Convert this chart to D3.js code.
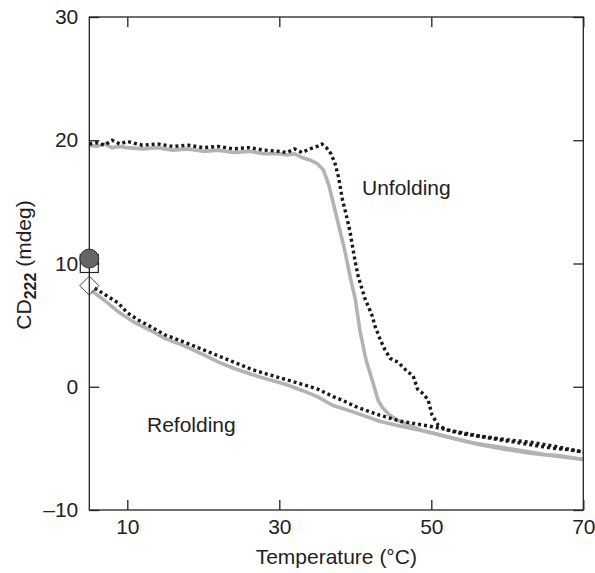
<!DOCTYPE html>
<html>
<head>
<meta charset="utf-8">
<script src="https://cdn.jsdelivr.net/npm/d3@7"></script>
<style>
  body { margin: 0; background: #fff; }
  svg text { font-family: "Liberation Sans", Arial, sans-serif; fill: #222; }
</style>
</head>
<body>
<svg class="cd" width="595" height="573"></svg>
<script>
// unfolding run, black dotted trace
var unfoldBlackT = [5, 6, 7, 8, 9, 10, 12, 14, 16, 18, 20, 22, 24, 26, 28, 30, 31, 32, 33, 34, 35, 35.6, 36.2, 36.8, 37.3, 37.8, 38.3, 38.9, 39.3, 39.6, 40.0, 40.4, 40.9, 41.3, 42.2, 42.6, 43.3, 43.9, 44.6, 45.6, 46.9, 47.6, 48.2, 49.0, 49.6, 50.1, 50.9, 52, 54, 56, 58, 60, 62, 64, 66, 68, 70];
var unfoldBlackV = [19.7, 19.8, 19.6, 20.0, 19.7, 19.9, 19.6, 19.7, 19.5, 19.6, 19.4, 19.5, 19.3, 19.4, 19.2, 19.1, 19.0, 19.3, 19.0, 19.3, 19.5, 19.7, 19.4, 18.9, 18.2, 17.0, 15.2, 13.7, 12.6, 11.5, 10.1, 8.9, 7.9, 7.1, 5.8, 4.9, 3.8, 3.0, 2.3, 2.0, 1.2, 0.9, -0.2, -0.6, -1.1, -2.3, -3.1, -3.5, -3.8, -4.0, -4.2, -4.4, -4.6, -4.8, -5.0, -5.1, -5.3];

// unfolding run, grey solid trace
var unfoldGreyT = [5, 6, 7, 8, 9, 10, 12, 14, 16, 18, 20, 22, 24, 26, 28, 30, 31, 32, 33, 34, 35, 35.8, 36.5, 37.3, 38.0, 38.6, 39.4, 40.0, 40.6, 41.4, 42.2, 43.0, 43.6, 44.5, 45.5, 47, 49, 51, 53, 55, 57, 59, 61, 63, 65, 67, 69, 70];
var unfoldGreyV = [19.6, 19.5, 19.7, 19.4, 19.5, 19.4, 19.3, 19.4, 19.2, 19.3, 19.1, 19.2, 19.0, 19.1, 18.9, 18.9, 18.8, 18.9, 18.6, 18.4, 18.1, 17.6, 16.4, 14.4, 12.6, 11.1, 8.7, 7.1, 4.6, 2.2, 0.6, -1.1, -1.7, -2.3, -2.7, -3.1, -3.6, -3.9, -4.2, -4.5, -4.7, -4.9, -5.1, -5.3, -5.5, -5.6, -5.8, -5.9];

// refolding run, black dotted trace
var refoldBlackT = [5.7, 7, 8.8, 10, 11.5, 13.3, 15, 17.6, 20, 22, 24, 26.4, 28.5, 30.8, 33, 35.1, 37.1, 38.3, 40, 43.2, 46, 49.8, 53, 56.4, 60, 63, 66, 70];
var refoldBlackV = [8.0, 7.5, 6.8, 6.0, 5.4, 4.8, 4.2, 3.6, 3.0, 2.5, 2.0, 1.4, 1.0, 0.6, 0.2, -0.2, -0.8, -1.1, -1.6, -2.3, -2.8, -3.2, -3.6, -4.0, -4.3, -4.5, -4.8, -5.3];

// refolding run, grey solid trace
var refoldGreyT = [5.3, 7, 9, 11, 13.3, 15, 17.6, 20, 22, 24, 26.4, 28.5, 30.8, 33, 35, 37, 40, 43.2, 46, 49.8, 53, 56.4, 60, 63, 66, 70];
var refoldGreyV = [7.8, 7.0, 6.0, 5.2, 4.5, 3.9, 3.3, 2.6, 2.0, 1.5, 1.0, 0.6, 0.2, -0.3, -0.8, -1.5, -2.1, -2.8, -3.2, -3.7, -4.2, -4.7, -5.1, -5.4, -5.6, -5.9];

// single points at 5 C
var markerT = [5, 5, 5];
var markerV = [10.0, 10.4, 8.2];
var markerShape = ['square', 'circle', 'diamond'];

var xTicks = [10, 30, 50, 70];
var yTicks = [-10, 0, 10, 20, 30];

var svg = d3.select('.cd');

var plot = {l: 89.3, r: 583.3, t: 17, b: 510};
var fontSize = 21;

var xScale = d3.scaleLinear().domain([5, 70]).range([plot.l, plot.r]);
var yScale = d3.scaleLinear().domain([-10, 30]).range([plot.b, plot.t]);

function zipSeries(ts, vs) {
  return ts.map(function(t, i) { return {t: t, v: vs[i]}; });
}

var line = d3.line()
  .x(function(d) { return xScale(d.t); })
  .y(function(d) { return yScale(d.v); });

// grey traces under the black ones
[[unfoldGreyT, unfoldGreyV], [refoldGreyT, refoldGreyV]].forEach(function(s) {
  svg.append('path')
    .datum(zipSeries(s[0], s[1]))
    .attr('d', line)
    .attr('fill', 'none')
    .attr('stroke', '#b3b3b3')
    .attr('stroke-width', 3.6)
    .attr('stroke-linejoin', 'round');
});

[[unfoldBlackT, unfoldBlackV], [refoldBlackT, refoldBlackV]].forEach(function(s) {
  svg.append('path')
    .datum(zipSeries(s[0], s[1]))
    .attr('d', line)
    .attr('fill', 'none')
    .attr('stroke', '#1a1a1a')
    .attr('stroke-width', 3.4)
    .attr('stroke-dasharray', '3,3');
});

// axes, ticks point inward on all four sides
var fmt = function(d) { return d < 0 ? '\u2013' + Math.abs(d) : d; };

svg.append('g')
  .attr('transform', 'translate(0,' + plot.b + ')')
  .call(d3.axisBottom(xScale).tickValues(xTicks).tickSize(-10).tickPadding(9).tickSizeOuter(0));
svg.append('g')
  .attr('transform', 'translate(0,' + plot.t + ')')
  .call(d3.axisTop(xScale).tickValues(xTicks).tickSize(-10).tickSizeOuter(0).tickFormat(''));
svg.append('g')
  .attr('transform', 'translate(' + plot.l + ',0)')
  .call(d3.axisLeft(yScale).tickValues(yTicks).tickSize(-10).tickPadding(11).tickSizeOuter(0).tickFormat(fmt));
svg.append('g')
  .attr('transform', 'translate(' + plot.r + ',0)')
  .call(d3.axisRight(yScale).tickValues(yTicks).tickSize(-10).tickSizeOuter(0).tickFormat(''));

svg.selectAll('.domain').remove();
svg.selectAll('.tick line').attr('stroke', '#222').attr('stroke-width', 1.3);
svg.selectAll('.tick text').attr('font-size', fontSize).attr('font-family', null).attr('fill', '#222');

svg.append('rect')
  .attr('x', plot.l).attr('y', plot.t)
  .attr('width', plot.r - plot.l).attr('height', plot.b - plot.t)
  .attr('fill', 'none').attr('stroke', '#222').attr('stroke-width', 1.3);

// markers at the start temperature
var markers = svg.append('g');
markerShape.forEach(function(shape, i) {
  var cx = xScale(markerT[i]), cy = yScale(markerV[i]);
  if (shape == 'square') {
    markers.append('rect').attr('x', cx - 9).attr('y', cy - 9).attr('width', 18).attr('height', 18)
      .attr('fill', 'none').attr('stroke', '#222').attr('stroke-width', 1.2);
  } else if (shape == 'circle') {
    markers.append('circle').attr('cx', cx).attr('cy', cy).attr('r', 9.5)
      .attr('fill', '#666').attr('stroke', '#333').attr('stroke-width', 1);
  } else {
    markers.append('path')
      .attr('d', 'M' + cx + ',' + (cy - 9.5) + 'L' + (cx + 9.5) + ',' + cy + 'L' + cx + ',' + (cy + 9.5) + 'L' + (cx - 9.5) + ',' + cy + 'Z')
      .attr('fill', 'none').attr('stroke', '#444').attr('stroke-width', 1);
  }
});

// labels
svg.append('text').attr('x', 362).attr('y', 195).attr('font-size', fontSize).text('Unfolding');
svg.append('text').attr('x', 147).attr('y', 432).attr('font-size', fontSize).text('Refolding');

svg.append('text')
  .attr('x', (plot.l + plot.r) / 2).attr('y', 564)
  .attr('text-anchor', 'middle').attr('font-size', fontSize)
  .text('Temperature (\u00b0C)');

var yLab = svg.append('text')
  .attr('transform', 'translate(31,265) rotate(-90)')
  .attr('text-anchor', 'middle').attr('font-size', fontSize);
yLab.append('tspan').text('CD');
yLab.append('tspan').attr('font-weight', 'bold').attr('font-size', 16).attr('dy', 5).text('222');
yLab.append('tspan').attr('dy', -5).text(' (mdeg)');
</script>
</body>
</html>
